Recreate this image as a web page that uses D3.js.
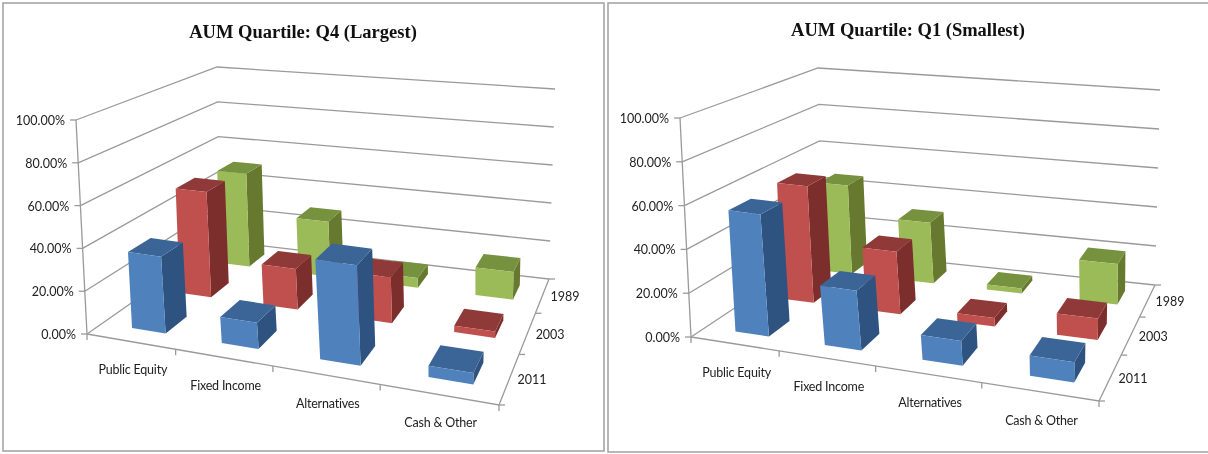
<!DOCTYPE html>
<html><head><meta charset="utf-8">
<script src="https://cdn.jsdelivr.net/npm/d3@7/dist/d3.min.js"></script>
<style>html,body{margin:0;padding:0;background:#fff;overflow:hidden}svg{display:block;filter:blur(0.35px)}</style>
</head><body><svg id="c" width="1208" height="454"></svg>
<script>
// ---- data ----
const categories = ["Public Equity","Fixed Income","Alternatives","Cash & Other"];
const seriesNames = ["1989","2003","2011"];
const yTicks = [0,20,40,60,80,100];
const q4_1989 = [50,29,5,14];
const q4_2003 = [53,20,22,3];
const q4_2011 = [36,12,45,5];
const q1_1989 = [46,31,2.5,20];
const q1_2003 = [57,30,4,10];
const q1_2011 = [56,27,11,9];
const fronts = ["#9BBB59","#C0504D","#4F81BD"];
const tops   = ["#77923F","#8F3A38","#3B6596"];
const sides  = ["#66792F","#7B2E2C","#2F5380"];

// ---- layout ----
const panels = [
 {title:"AUM Quartile: Q4 (Largest)", titleX:303, titleY:38, frame:[3,3,601,448],
  values:[q4_1989,q4_2003,q4_2011],
  floor:[[87,334],[499,405],[549,279],[220,241]],
  ceil:[[76,120],[509,171],[555,89],[217,67]]},
 {title:"AUM Quartile: Q1 (Smallest)", titleX:908, titleY:36, frame:[608,3,640,449],
  values:[q1_1989,q1_2003,q1_2011],
  floor:[[691,337],[1099,401],[1155,285],[822,250]],
  ceil:[[680,118],[1109,171],[1160,90],[818,68]]}
];

function homography(q){ // unit square -> quad (fl, fr, br, bl)
  const [[x0,y0],[x1,y1],[x2,y2],[x3,y3]] = q;
  const dx1=x1-x2, dx2=x3-x2, sx=x0-x1+x2-x3, dy1=y1-y2, dy2=y3-y2, sy=y0-y1+y2-y3;
  const den=dx1*dy2-dx2*dy1, g=(sx*dy2-dx2*sy)/den, h=(dx1*sy-sx*dy1)/den;
  const a=x1-x0+g*x1, b=x3-x0+h*x3, d=y1-y0+g*y1, e=y3-y0+h*y3;
  return (s,t)=>{const w=g*s+h*t+1;return [(a*s+b*t+x0)/w,(d*s+e*t+y0)/w];};
}
const uScale = d3.scaleLinear().domain([0,categories.length]).range([0,1]);
const vScale = d3.scaleLinear().domain([0,seriesNames.length]).range([0,1]);
const wScale = d3.scaleLinear().domain([0,100]).range([0,1]);
const svg = d3.select("#c");
const line = d3.line();
const gapL=.35, gapR=.265, gapV=.28;

panels.forEach(p=>{
  const H0=homography(p.floor), H1=homography(p.ceil);
  const P=(u,v,w)=>{const a=H0(uScale(u),vScale(v)),b=H1(uScale(u),vScale(v)),k=wScale(w);
    return [a[0]+(b[0]-a[0])*k,a[1]+(b[1]-a[1])*k];};
  const g=svg.append("g");
  g.append("rect").attr("x",p.frame[0]).attr("y",p.frame[1]).attr("width",p.frame[2]).attr("height",p.frame[3])
    .attr("fill","#fff").attr("stroke","#a6a6a6").attr("stroke-width",1.6);
  g.append("text").attr("x",p.titleX).attr("y",p.titleY).attr("text-anchor","middle")
    .attr("font-family","Liberation Serif").attr("font-weight","bold").attr("font-size",18.5).attr("fill","#111").text(p.title);
  const nC=categories.length,nS=seriesNames.length;
  const gl=g.append("g").attr("fill","none").attr("stroke","#9a9a9a").attr("stroke-width",1.3);
  yTicks.forEach(t=>{
    gl.append("path").attr("d",line([P(0,0,t),P(0,nS,t),P(nC,nS,t)]));
    const a=P(0,0,t);
    gl.append("path").attr("d",line([[a[0]-6,a[1]],a]));
    g.append("text").attr("x",a[0]-11).attr("y",a[1]+5).attr("text-anchor","end")
      .attr("font-family","Lato").attr("font-size",12.5).attr("fill","#222").text(d3.format(".2f")(t)+"%");
  });
  gl.append("path").attr("d",line([P(0,0,0),P(0,0,100)]));
  gl.append("path").attr("d",line([P(0,0,0),P(nC,0,0),P(nC,nS,0)]));
  d3.range(nC+1).forEach(i=>{const a=P(i,0,0);gl.append("path").attr("d",line([a,[a[0],a[1]+6]]));});
  d3.range(nS+1).forEach(j=>{const a=P(nC,j,0);gl.append("path").attr("d",line([a,[a[0]+6,a[1]]]));});
  categories.forEach((c,i)=>{const a=P(i+.5,0,0);
    g.append("text").attr("x",a[0]+2.5).attr("y",a[1]+33).attr("text-anchor","middle")
      .attr("font-family","Lato").attr("font-size",12.5).attr("letter-spacing",-0.2).attr("fill","#222").text(c);});
  seriesNames.forEach((s,k)=>{const a=P(nC,nS-k-.5,0);
    g.append("text").attr("x",a[0]+8).attr("y",a[1]+6)
      .attr("font-family","Lato").attr("font-size",12.5).attr("fill","#222").text(s);});
  // bars, back to front
  p.values.forEach((vals,k)=>{
    const j=nS-1-k; // depth slot, 0 = front
    vals.forEach((val,i)=>{
      const u0=i+gapL,u1=i+1-gapR,v0=j+gapV,v1=j+1-gapV;
      const bar=g.append("g").attr("stroke","none");
      bar.append("path").attr("d",line([P(u1,v0,0),P(u1,v1,0),P(u1,v1,val),P(u1,v0,val)])+"Z").attr("fill",sides[k]);
      bar.append("path").attr("d",line([P(u0,v0,val),P(u1,v0,val),P(u1,v1,val),P(u0,v1,val)])+"Z").attr("fill",tops[k]);
      bar.append("path").attr("d",line([P(u0,v0,0),P(u1,v0,0),P(u1,v0,val),P(u0,v0,val)])+"Z").attr("fill",fronts[k]);
    });
  });
});
</script></body></html>
